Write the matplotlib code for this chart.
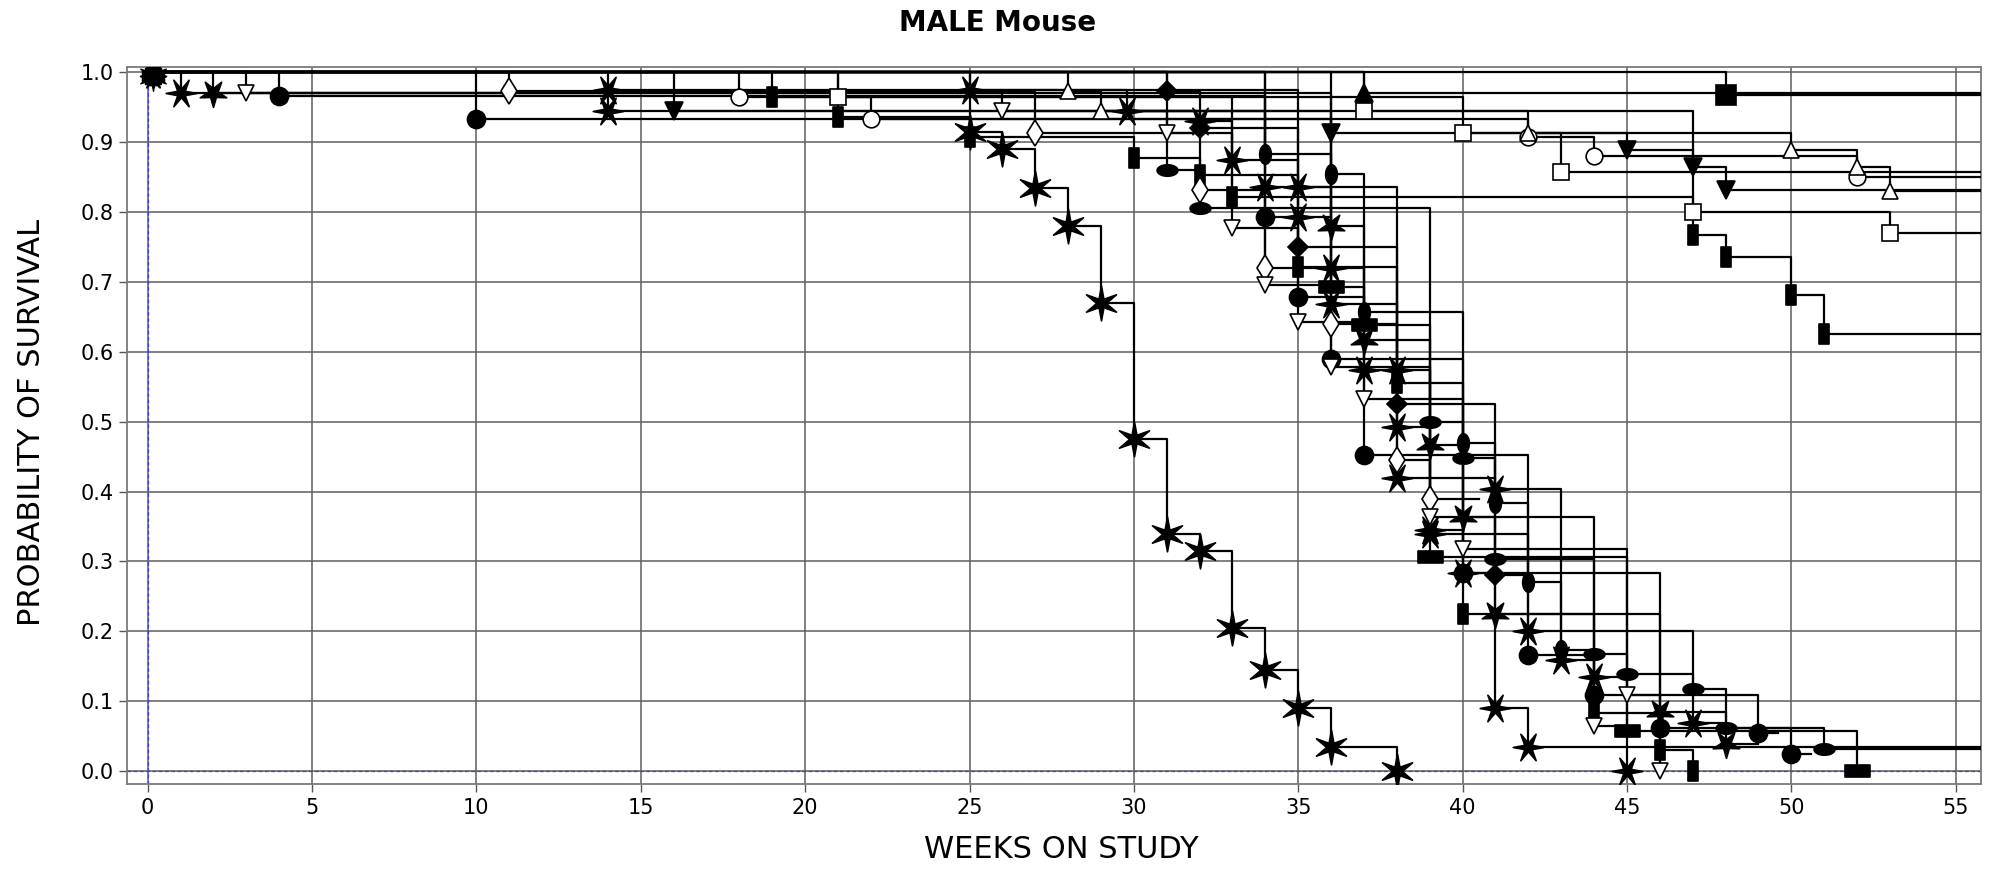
import numpy as np
import matplotlib
matplotlib.use("Agg")
import matplotlib.pyplot as plt
from matplotlib.path import Path

# ---------------- data ----------------
title = "MALE Mouse"
x_label = "WEEKS ON STUDY"
y_label = "PROBABILITY OF SURVIVAL"
x_ticks = [0, 5, 10, 15, 20, 25, 30, 35, 40, 45, 50, 55]
y_ticks = [0.0, 0.1, 0.2, 0.3, 0.4, 0.5, 0.6, 0.7, 0.8, 0.9, 1.0]
study_end = 55.8

# each group: event weeks, survival after event, last week followed, marker key
star6_t = [25, 26, 27, 28, 29, 30, 31, 32, 33, 34, 35, 36, 38]
star6_s = [0.915, 0.89, 0.835, 0.78, 0.67, 0.475, 0.34, 0.315, 0.205, 0.145, 0.09, 0.035, 0.0]
star6_end = 38

xa_t = [1, 14, 32, 33, 35, 36, 37, 38, 39, 40, 41, 42]
xa_s = [0.97, 0.945, 0.93, 0.875, 0.793, 0.72, 0.574, 0.493, 0.345, 0.283, 0.09, 0.035]
xa_end = study_end

xb_t = [14, 29.8, 34, 36, 38, 41, 43, 44, 45]
xb_s = [0.975, 0.945, 0.836, 0.669, 0.42, 0.404, 0.159, 0.135, 0.0]
xb_end = 45

xc_t = [25, 35, 38, 39, 42, 47]
xc_s = [0.975, 0.836, 0.574, 0.34, 0.201, 0.069]
xc_end = 48

ya_t = [2, 36, 37, 39, 40, 41, 46, 48]
ya_s = [0.97, 0.78, 0.617, 0.466, 0.364, 0.225, 0.085, 0.038]
ya_end = 49

vf_t = [16, 36, 45, 47, 48]
vf_s = [0.945, 0.914, 0.889, 0.865, 0.832]
vf_end = study_end

oa_t = [4, 34, 35, 37, 42, 44, 49]
oa_s = [0.967, 0.793, 0.678, 0.452, 0.166, 0.109, 0.055]
oa_end = 49.6

ob_t = [10, 36, 40, 46, 50]
ob_s = [0.933, 0.59, 0.283, 0.061, 0.024]
ob_end = 50.6

oc_t = [18, 22, 42, 44, 52]
oc_s = [0.965, 0.933, 0.907, 0.88, 0.85]
oc_end = study_end

tu_t = [28, 29, 42, 50, 52, 53]
tu_s = [0.973, 0.945, 0.914, 0.889, 0.865, 0.83]
tu_end = study_end

tuf_t = [37]
tuf_s = [0.97]
tuf_end = study_end

sqa_t = [21, 40, 43]
sqa_s = [0.965, 0.914, 0.858]
sqa_end = study_end

sqb_t = [37, 47, 53]
sqb_s = [0.945, 0.80, 0.77]
sqb_end = study_end

sqf_t = [48]
sqf_s = [0.968]
sqf_end = study_end

ra_t = [19, 33, 47, 48, 50, 51]
ra_s = [0.965, 0.822, 0.767, 0.736, 0.681, 0.625]
ra_end = study_end

rb_t = [21, 25, 30, 32, 35, 38, 40, 44, 46, 47]
rb_s = [0.936, 0.907, 0.878, 0.853, 0.722, 0.555, 0.225, 0.0835, 0.03, 0.0]
rb_end = 47

rw_t = [36, 37, 39, 45, 52]
rw_s = [0.693, 0.638, 0.307, 0.057, 0.0]
rw_end = 52

el_t = [31, 32, 39, 40, 41, 44, 45, 47, 48, 51]
el_s = [0.86, 0.806, 0.50, 0.448, 0.304, 0.168, 0.139, 0.117, 0.062, 0.031]
el_end = study_end

ev_t = [34, 36, 37, 40, 41, 42, 43]
ev_s = [0.884, 0.855, 0.657, 0.47, 0.383, 0.27, 0.173]
ev_end = 44

df_t = [31, 32, 35, 38, 41]
df_s = [0.973, 0.92, 0.75, 0.526, 0.28]
df_end = 42

do_t = [11, 27, 32, 34, 36, 38, 39]
do_s = [0.973, 0.914, 0.832, 0.72, 0.64, 0.445, 0.39]
do_end = 40.5

tda_t = [3, 26, 31, 33, 35, 37, 40, 45, 46]
tda_s = [0.97, 0.945, 0.914, 0.777, 0.643, 0.533, 0.318, 0.109, 0.0]
tda_end = 46

tdb_t = [34, 36, 39, 44]
tdb_s = [0.696, 0.579, 0.364, 0.064]
tdb_end = 45

groups = [
    (star6_t, star6_s, star6_end, "star6"),
    (xa_t, xa_s, xa_end, "xstar"),
    (xb_t, xb_s, xb_end, "xstar"),
    (xc_t, xc_s, xc_end, "xstar"),
    (ya_t, ya_s, ya_end, "ystar"),
    (vf_t, vf_s, vf_end, "vfill"),
    (oa_t, oa_s, oa_end, "ofill"),
    (ob_t, ob_s, ob_end, "ofill"),
    (oc_t, oc_s, oc_end, "oopen"),
    (tu_t, tu_s, tu_end, "tuopen"),
    (tuf_t, tuf_s, tuf_end, "tufill"),
    (sqa_t, sqa_s, sqa_end, "sqopen"),
    (sqb_t, sqb_s, sqb_end, "sqopen"),
    (sqf_t, sqf_s, sqf_end, "sqfill"),
    (ra_t, ra_s, ra_end, "rectv"),
    (rb_t, rb_s, rb_end, "rectv"),
    (rw_t, rw_s, rw_end, "recth"),
    (el_t, el_s, el_end, "ellh"),
    (ev_t, ev_s, ev_end, "ellv"),
    (df_t, df_s, df_end, "dfill"),
    (do_t, do_s, do_end, "dopen"),
    (tda_t, tda_s, tda_end, "tdopen"),
    (tdb_t, tdb_s, tdb_end, "tdopen"),
]

# ---------------- marker shapes ----------------
def star_path(n, inner, rot_deg):
    verts = []
    for k in range(2 * n):
        r = 1.0 if k % 2 == 0 else inner
        a = np.deg2rad(90 + rot_deg + k * 180.0 / n)
        verts.append((r * np.cos(a), r * np.sin(a)))
    verts.append(verts[0])
    codes = [Path.MOVETO] + [Path.LINETO] * (2 * n - 1) + [Path.CLOSEPOLY]
    return Path(verts, codes)

def rect_path(w, h):
    v = [(-w, -h), (w, -h), (w, h), (-w, h), (-w, -h)]
    return Path(v, [Path.MOVETO, Path.LINETO, Path.LINETO, Path.LINETO, Path.CLOSEPOLY])

def ellipse_path(a, b):
    th = np.linspace(0, 2 * np.pi, 40)
    v = np.column_stack([a * np.cos(th), b * np.sin(th)])
    codes = [Path.MOVETO] + [Path.LINETO] * 38 + [Path.CLOSEPOLY]
    return Path(v, codes)

# key: (marker, size, filled)
mstyles = {
    "star6": (star_path(6, 0.28, 0), 25, True),
    "xstar": (star_path(6, 0.28, 30), 22, True),
    "ystar": (star_path(5, 0.35, 180), 20, True),
    "vfill": ("v", 13, True),
    "ofill": ("o", 13, True),
    "oopen": ("o", 12, False),
    "tuopen": ("^", 12, False),
    "tufill": ("^", 13, True),
    "sqopen": ("s", 12, False),
    "sqfill": ("s", 14, True),
    "rectv": (rect_path(0.45, 1.0), 15, True),
    "recth": (rect_path(1.0, 0.5), 18, True),
    "ellh": (ellipse_path(1.0, 0.55), 15, True),
    "ellv": (ellipse_path(0.6, 1.0), 14, True),
    "dfill": ("D", 10, True),
    "dopen": ("d", 13, False),
    "tdopen": ("v", 12, False),
}

# ---------------- figure ----------------
plt.rcParams["font.family"] = ["DejaVu Sans"]
fig = plt.figure(figsize=(19.95, 8.74), dpi=100)
ax = fig.add_axes([0.0638, 0.1033, 0.9292, 0.8196])
ax.set_xlim(-0.62, 55.77)
ax.set_ylim(-0.0182, 1.0073)

ax.set_xticks(x_ticks)
ax.set_yticks(y_ticks)
ax.set_xticklabels([str(v) for v in x_ticks], fontsize=15)
ax.set_yticklabels([f"{v:.1f}" for v in y_ticks], fontsize=15)
ax.grid(True, color="#5e5e5e", linewidth=1.1, zorder=0)
ax.set_axisbelow(True)
ax.tick_params(direction="out", length=6, width=1, color="#555555", pad=4)
for sp in ax.spines.values():
    sp.set_color("#7a7a7a")
    sp.set_linewidth(1.3)

# reference lines
ax.axvline(0, color="#3a3aff", linestyle=(0, (3, 2)), linewidth=0.9, zorder=1)
ax.axhline(0, color="#3a3aff", linestyle=(0, (3, 2)), linewidth=0.9, zorder=1)

for t, s, end, key in groups:
    xs = [0.0] + list(t) + [end]
    ys = [1.0] + list(s) + [s[-1]]
    ax.step(xs, ys, where="post", color="black", linewidth=1.6, zorder=3)

for t, s, end, key in groups:
    mk, ms, filled = mstyles[key]
    fc = "black" if filled else "white"
    ax.plot(t, s, linestyle="none", marker=mk, markersize=ms,
            markerfacecolor=fc, markeredgecolor="black",
            markeredgewidth=1.2, zorder=4)
    ax.plot([0.15], [0.995], linestyle="none", marker=mk, markersize=ms * 0.85,
            markerfacecolor="black", markeredgecolor="black",
            markeredgewidth=1.0, zorder=4)

fig.text(0.5, 0.974, title, ha="center", va="center", fontsize=20, fontweight="bold")
fig.text(0.532, 0.028, x_label, ha="center", va="center", fontsize=22)
fig.text(0.016, 0.517, y_label, ha="center", va="center", rotation=90, fontsize=22)

fig.savefig("out.png", dpi=100)
